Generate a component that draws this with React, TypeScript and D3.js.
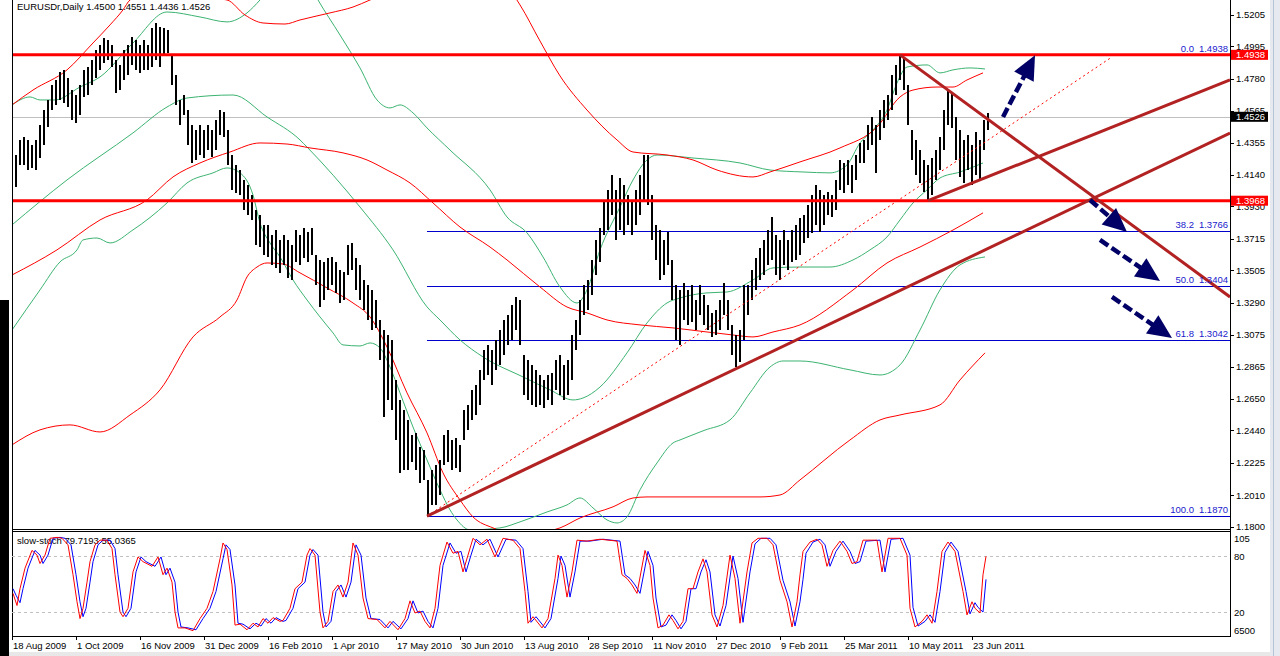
import React from "react";
import * as d3 from "d3";

// ---------- DATA ----------
const title = "EURUSDr,Daily  1.4500 1.4551 1.4436 1.4526";
const stochTitle = "slow-stoch 79.7193 55.0365";

// one bar per two trading days, starting 18 Aug 2009 (day index = 2*i)
const barHigh = [
1.4305,1.4272,1.4372,1.4392,1.4372,1.4339,1.4372,1.4472,1.4571,1.4638,
1.4738,1.4771,1.4824,1.4837,1.4784,1.4704,1.4671,1.4738,1.4837,1.4857,
1.4904,1.4970,1.5004,1.5050,1.5037,1.5004,1.4904,1.4871,1.4970,1.5004,
1.5057,1.5037,1.5004,1.5037,1.5004,1.5117,1.5150,1.5123,1.5117,1.5103,
1.4937,1.4804,1.4638,1.4671,1.4571,1.4472,1.4438,1.4472,1.4438,1.4472,
1.4438,1.4505,1.4571,1.4558,1.4438,1.4272,1.4206,1.4172,1.4106,1.4073,
1.4006,1.3907,1.3873,1.3807,1.3807,1.3740,1.3774,1.3707,1.3740,1.3707,
1.3674,1.3774,1.3740,1.3787,1.3760,1.3787,1.3607,1.3574,1.3561,1.3587,
1.3594,1.3561,1.3508,1.3494,1.3674,1.3687,1.3587,1.3541,1.3441,1.3408,
1.3375,1.3308,1.3175,1.3109,1.3075,1.3042,1.2776,1.2643,1.2577,1.2510,
1.2410,1.2424,1.2330,1.2311,1.2111,1.2178,1.2211,1.2244,1.2410,1.2444,
1.2377,1.2390,1.2344,1.2577,1.2610,1.2710,1.2743,1.2843,1.2976,1.3009,
1.2976,1.3042,1.3109,1.3175,1.3208,1.3275,1.3328,1.3308,1.2942,1.2909,
1.2876,1.2843,1.2809,1.2776,1.2809,1.2823,1.2909,1.2942,1.2876,1.2909,
1.3075,1.3175,1.3308,1.3408,1.3441,1.3574,1.3707,1.3787,1.3973,1.4040,
1.4139,1.4040,1.4119,1.4073,1.4006,1.3973,1.4040,1.4139,1.4272,1.4272,
1.4006,1.3807,1.3774,1.3707,1.3760,1.3574,1.3408,1.3375,1.3421,1.3375,
1.3408,1.3308,1.3408,1.3341,1.3275,1.3221,1.3242,1.3308,1.3421,1.3308,
1.3142,1.3075,1.3109,1.3408,1.3408,1.3508,1.3587,1.3654,1.3707,1.3774,
1.3860,1.3740,1.3707,1.3774,1.3707,1.3774,1.3807,1.3853,1.3873,1.3940,
1.4006,1.4073,1.4040,1.4006,1.4026,1.4006,1.4106,1.4239,1.4219,1.4239,
1.4206,1.4272,1.4352,1.4372,1.4472,1.4525,1.4472,1.4571,1.4638,1.4671,
1.4804,1.4871,1.4938,1.4924,1.4738,1.4438,1.4372,1.4305,1.4239,1.4206,
1.4252,1.4305,1.4392,1.4571,1.4704,1.4684,1.4525,1.4438,1.4372,1.4405,
1.4339,1.4425,1.4372,1.4505,1.4551];
const barLow = [
1.4073,1.4060,1.4206,1.4206,1.4172,1.4186,1.4172,1.4252,1.4339,1.4458,
1.4571,1.4605,1.4638,1.4618,1.4591,1.4505,1.4485,1.4538,1.4658,1.4671,
1.4738,1.4784,1.4837,1.4884,1.4904,1.4857,1.4685,1.4704,1.4771,1.4804,
1.4871,1.4837,1.4817,1.4837,1.4837,1.4857,1.4904,1.4857,1.4937,1.4950,
1.4738,1.4605,1.4472,1.4538,1.4339,1.4219,1.4239,1.4272,1.4252,1.4305,
1.4259,1.4305,1.4405,1.4392,1.4206,1.4040,1.4020,1.4006,1.3907,1.3873,
1.3840,1.3674,1.3661,1.3607,1.3594,1.3541,1.3521,1.3488,1.3541,1.3455,
1.3441,1.3561,1.3541,1.3587,1.3561,1.3607,1.3408,1.3262,1.3308,1.3375,
1.3408,1.3355,1.3288,1.3308,1.3474,1.3508,1.3375,1.3308,1.3242,1.3175,
1.3109,1.3122,1.2909,1.2530,1.2643,1.2577,1.2377,1.2158,1.2178,1.2178,
1.2231,1.2178,1.2091,1.2111,1.1870,1.1945,1.1945,1.2011,1.2211,1.2231,
1.2178,1.2191,1.2164,1.2377,1.2444,1.2510,1.2543,1.2610,1.2776,1.2809,
1.2743,1.2843,1.2876,1.2942,1.3009,1.3042,1.3109,1.3009,1.2676,1.2643,
1.2610,1.2597,1.2610,1.2590,1.2643,1.2610,1.2710,1.2676,1.2643,1.2676,
1.2776,1.2976,1.3075,1.3208,1.3242,1.3341,1.3474,1.3561,1.3740,1.3774,
1.3873,1.3707,1.3774,1.3740,1.3807,1.3740,1.3807,1.3873,1.3973,1.3940,
1.3707,1.3574,1.3441,1.3474,1.3541,1.3308,1.3042,1.3009,1.3175,1.3142,
1.3162,1.3109,1.3208,1.3142,1.3109,1.3062,1.3075,1.3109,1.3208,1.3109,
1.2942,1.2862,1.2896,1.3042,1.3208,1.3308,1.3375,1.3441,1.3474,1.3541,
1.3574,1.3474,1.3441,1.3541,1.3508,1.3561,1.3574,1.3607,1.3687,1.3720,
1.3754,1.3807,1.3760,1.3807,1.3873,1.3860,1.3907,1.4040,1.4020,1.4073,
1.4020,1.4106,1.4219,1.4219,1.4305,1.4339,1.4153,1.4372,1.4452,1.4505,
1.4571,1.4671,1.4771,1.4704,1.4472,1.4239,1.4139,1.4086,1.4026,1.3968,
1.4006,1.4106,1.4172,1.4305,1.4472,1.4452,1.4239,1.4126,1.4086,1.4172,
1.4073,1.4139,1.4106,1.4305,1.4436];

const priceTicks = [1.5205,1.4995,1.4780,1.4565,1.4355,1.4140,1.3930,1.3715,1.3505,1.3290,1.3075,1.2865,1.2650,1.2440,1.2225,1.2010,1.1800];
const dateLabels = ["18 Aug 2009","1 Oct 2009","16 Nov 2009","31 Dec 2009","16 Feb 2010","1 Apr 2010","17 May 2010","30 Jun 2010","13 Aug 2010","28 Sep 2010","11 Nov 2010","27 Dec 2010","9 Feb 2011","25 Mar 2011","10 May 2011","23 Jun 2011"];

const redLevels = [1.4938, 1.3968];
const currentPrice = 1.4526;
const fibNames = ["0.0","38.2","50.0","61.8","100.0"];
const fibPrices = [1.4938,1.3766,1.3404,1.3042,1.1870];
const fibStartDay = 207.5;

// trend lines: [day1, price1, day2, price2]
const trendLines = [
  [207.5,1.1870,609,1.4418],
  [458,1.3968,609,1.4771],
  [444,1.4938,609,1.3328],
];
const dottedLine = [207.5,1.1870,550,1.4924];
// arrows: [startDay, startPrice, tipDay, tipPrice]
const arrows = [
  [495.5,1.4525,511.5,1.4935],
  [539,1.3973,557.5,1.3760],
  [544,1.3707,574,1.3434],
  [550,1.3328,580,1.3055],
];

// Bollinger bands [day, price]
const greenUpper = [[0,1.4605],[9,1.4658],[14,1.4638],[21.5,1.4638],[34,1.4724],[44,1.4791],[60.5,1.5017],[77.5,1.5223],[94,1.5190],[107.5,1.5157],[117.5,1.5217],[124,1.5303],[134,1.5469],[144,1.5522],[153,1.5303],[164,1.5070],[174,1.4851],[182.5,1.4638],[189,1.4585],[194,1.4605],[200.5,1.4552],[207.5,1.4452],[219,1.4305],[239,1.4040],[247.5,1.3860],[257.5,1.3754],[265.5,1.3594],[274,1.3394],[282.5,1.3288],[287.5,1.3375],[294,1.3641],[304,1.3926],[310.5,1.4106],[317.5,1.4239],[322.5,1.4272],[340.5,1.4252],[364,1.4219],[379,1.4172],[395.5,1.4159],[409,1.4153],[417.5,1.4206],[424,1.4352],[430.5,1.4438],[437.5,1.4571],[442.5,1.4751],[447.5,1.4857],[457.5,1.4871],[464,1.4818],[470.5,1.4838],[479,1.4851],[486.5,1.4844]];
const greenMid = [[0,1.3807],[27.5,1.4106],[60.5,1.4419],[77.5,1.4591],[87.5,1.4651],[110.5,1.4671],[127.5,1.4525],[144,1.4372],[147.5,1.4325],[174,1.3926],[190.5,1.3641],[207.5,1.3262],[214,1.3175],[224,1.3042],[235.5,1.2929],[255.5,1.2796],[269,1.2710],[280.5,1.2643],[285.5,1.2656],[294,1.2729],[307.5,1.2956],[317.5,1.3155],[327.5,1.3288],[334,1.3321],[347.5,1.3355],[357.5,1.3361],[370.5,1.3441],[380.5,1.3521],[394,1.3527],[409,1.3527],[420.5,1.3574],[429,1.3641],[437.5,1.3727],[444,1.3840],[450.5,1.3953],[457.5,1.4040],[464,1.4119],[474,1.4159],[485.5,1.4219]];
const greenLower = [[0,1.3108],[14,1.3375],[24,1.3561],[32.5,1.3641],[35.5,1.3707],[42.5,1.3720],[49,1.3687],[60.5,1.3774],[77.5,1.3953],[87.5,1.4086],[100.5,1.4153],[107.5,1.4186],[114,1.4153],[120.5,1.4006],[124,1.3820],[129,1.3687],[134,1.3594],[140.5,1.3441],[147.5,1.3308],[154,1.3195],[160.5,1.3089],[165.5,1.3009],[174,1.3002],[179,1.3022],[184,1.2989],[189,1.2862],[194,1.2690],[200.5,1.2463],[207.5,1.2244],[214,1.2045],[219,1.1912],[222.5,1.1845],[229,1.1779],[244,1.1792],[254,1.1832],[267.5,1.1898],[277.5,1.1945],[284,1.1991],[290.5,1.1925],[297.5,1.1845],[302.5,1.1825],[307.5,1.1865],[314,1.2045],[322.5,1.2224],[330.5,1.2357],[334,1.2377],[346,1.2440],[359,1.2510],[369,1.2690],[379,1.2862],[385.5,1.2902],[394,1.2902],[419,1.2843],[434,1.2809],[444,1.2876],[454,1.3108],[464,1.3375],[474,1.3541],[486.5,1.3594]];
const redUpper = [[0,1.4605],[10.5,1.4704],[27.5,1.4838],[40.5,1.5017],[49,1.5137],[55.5,1.5237],[59,1.5303],[69,1.5356],[89,1.5330],[107.5,1.5303],[116.5,1.5203],[125.5,1.5150],[136.5,1.5143],[144,1.5170],[159,1.5217],[170.5,1.5256],[179,1.5303],[187.5,1.5350],[210.5,1.5582],[239,1.5516],[254,1.5270],[264,1.5030],[274,1.4798],[287.5,1.4571],[302.5,1.4372],[310.5,1.4292],[327.5,1.4272],[340.5,1.4239],[352.5,1.4172],[370.5,1.4126],[379,1.4159],[394,1.4226],[414,1.4319],[432.5,1.4458],[444,1.4658],[450.5,1.4704],[462.5,1.4724],[470.5,1.4724],[477.5,1.4771],[485.5,1.4818]];
const redMid = [[0,1.3474],[22.5,1.3641],[44,1.3840],[67.5,1.3973],[80.5,1.4126],[94,1.4219],[109,1.4292],[124,1.4352],[137.5,1.4345],[149,1.4319],[165.5,1.4286],[177.5,1.4239],[187.5,1.4172],[199,1.4086],[210.5,1.3953],[224,1.3793],[239,1.3660],[247.5,1.3574],[264,1.3394],[277.5,1.3261],[287.5,1.3222],[297.5,1.3175],[314,1.3142],[330.5,1.3122],[347.5,1.3095],[360.5,1.3075],[370.5,1.3062],[380.5,1.3095],[394,1.3142],[420.5,1.3374],[437.5,1.3554],[454,1.3660],[470.5,1.3773],[485.5,1.3887]];
const redLower = [[0,1.2344],[14,1.2444],[29,1.2477],[44,1.2430],[59,1.2543],[74,1.2710],[90.5,1.3062],[104,1.3195],[112.5,1.3308],[117.5,1.3461],[122.5,1.3527],[127.5,1.3554],[135.5,1.3547],[144,1.3488],[157.5,1.3388],[170.5,1.3288],[179,1.3195],[187.5,1.2995],[197.5,1.2690],[207.5,1.2424],[215.5,1.2158],[224,1.1978],[230.5,1.1865],[240.5,1.1792],[254,1.1745],[266.5,1.1765],[274,1.1792],[284,1.1858],[300.5,1.1932],[310.5,1.1991],[317.5,1.1998],[334,1.1998],[354,1.1998],[374,1.1998],[384,1.2011],[394,1.2111],[419,1.2377],[434,1.2510],[444,1.2543],[464,1.2610],[474,1.2776],[486.5,1.2956]];

// slow stochastic [day, value]
const stochK = [[0.5,40],[2.5,27],[4,45],[6.5,67],[10,86],[12.5,81],[14,72],[16.5,81],[19,99],[22.5,100],[25,99],[28,92],[30.5,60],[32.5,31],[34,13],[35.5,24],[37.5,52],[39,74],[41.5,92],[44,97],[47.5,97],[50,88],[51.5,60],[54,20],[55.5,15],[58,24],[60.5,63],[63,79],[65.5,74],[70,69],[73,79],[75.5,60],[77.5,67],[80,52],[81.5,20],[83,3],[86.5,3],[90.5,0],[94,13],[97.5,24],[100.5,42],[104,77],[105.5,94],[107.5,87],[110,49],[111.5,6],[114,7],[117.5,1],[120.5,8],[123,4],[125.5,13],[128,8],[130.5,14],[134,10],[135.5,11],[139,24],[141.5,45],[145,52],[147.5,81],[149,88],[151.5,81],[154,20],[155.5,3],[158,10],[160.5,42],[163,49],[165.5,36],[168,52],[170.5,94],[173,81],[175.5,35],[178,13],[182.5,12],[186.5,3],[189,10],[193,1],[196.5,13],[199,32],[201.5,19],[204,21],[206.5,10],[209,3],[211.5,24],[214,70],[217.5,95],[220.5,83],[223,85],[225.5,63],[228,81],[230.5,99],[234,92],[237.5,98],[241.5,79],[245.5,99],[250.5,97],[254,88],[256.5,42],[258,8],[260.5,15],[265,3],[268,13],[271.5,56],[273,81],[275,70],[277.5,36],[280,63],[282.5,97],[287.5,96],[294,98],[302.5,96],[305,60],[307.5,56],[310,49],[312.5,40],[316.5,86],[319,70],[320.5,35],[323,3],[325.5,6],[328.5,17],[330.5,11],[333,2],[335.5,10],[338,45],[340.5,45],[343,63],[345.5,77],[347.5,63],[350,17],[352.5,4],[355.5,27],[359,81],[361.5,56],[364,8],[367.5,63],[370,94],[373,99],[377.5,99],[380.5,92],[384,54],[387.5,31],[390,4],[392.5,31],[394,60],[395.5,85],[399,95],[402.5,98],[405,92],[407.5,69],[410.5,86],[414,96],[417.5,85],[420,72],[422.5,74],[425.5,97],[432.5,97],[435,63],[438,99],[444,99],[447.5,81],[449,24],[451.5,4],[455,10],[457.5,17],[460,8],[462.5,42],[465,85],[468,95],[471.5,85],[475.5,42],[477.5,17],[480,31],[481.5,24],[484,19],[485.5,60],[487,79.7]];
const stochD = [[0.5,45],[2,38],[4,30],[5.5,45],[8,67],[11.5,86],[14,81],[15.5,72],[18,81],[20.5,99],[24,100],[26.5,99],[29.5,92],[32,60],[34,31],[35.5,15],[37,24],[39,52],[40.5,74],[43,92],[45.5,97],[49,97],[51.5,88],[53,60],[55.5,20],[57,15],[59.5,24],[62,63],[64.5,79],[67,74],[71.5,69],[74.5,79],[77,60],[79,67],[81.5,52],[83,20],[84.5,4],[88,3],[92,1],[95.5,13],[99,24],[102,42],[105.5,77],[107,92],[109,87],[111.5,49],[113,8],[115.5,7],[119,2],[122,8],[124.5,5],[127,13],[129.5,8],[132,14],[135.5,10],[137,11],[140.5,24],[143,45],[146.5,52],[149,81],[150.5,87],[153,81],[155.5,20],[157,4],[159.5,10],[162,42],[164.5,49],[167,36],[169.5,52],[172,92],[174.5,81],[177,35],[179.5,13],[184,12],[188,3],[190.5,10],[194.5,2],[198,13],[200.5,32],[203,19],[205.5,21],[208,10],[210.5,3],[213,24],[215.5,70],[219,94],[222,83],[224.5,85],[227,63],[229.5,81],[232,98],[235.5,92],[239,98],[243,79],[247,98],[252,97],[255.5,88],[258,42],[259.5,9],[262,15],[266.5,3],[269.5,13],[273,56],[274.5,80],[276.5,70],[279,36],[281.5,63],[284,96],[289,96],[295.5,98],[304,96],[306.5,60],[309,56],[311.5,49],[314,40],[318,85],[320.5,70],[322,35],[324.5,4],[327,6],[330,17],[332,11],[334.5,2],[337,10],[339.5,45],[342,45],[344.5,63],[347,76],[349,63],[351.5,17],[354,5],[357,27],[360.5,80],[363,56],[365.5,9],[369,63],[371.5,93],[374.5,99],[379,99],[382,92],[385.5,54],[389,31],[391.5,5],[394,31],[395.5,55],[397,83],[400.5,95],[404,98],[406.5,92],[409,69],[412,85],[415.5,96],[419,85],[421.5,72],[424,74],[427,96],[434,97],[436.5,63],[439.5,98],[445.5,99],[449,81],[450.5,25],[453,5],[456.5,10],[459,17],[461.5,9],[464,42],[466.5,84],[469.5,95],[473,85],[477,42],[479,18],[481.5,30],[483,25],[485.5,20],[487,55]];
const stochLevels = [80, 20];
const stochLabels = ["105", "80", "20", "6500"];
const stochLabelValues = [105, 80, 20, 0];

// ---------- CHART ----------
const FONT = "'Liberation Sans', Arial, sans-serif";

export default function App() {
  const left = 12, right = 1230, mainBottom = 529, stTop = 532, stBottom = 636;
  const x = d3.scaleLinear().domain([0, 609]).range([left, right]);
  const y = d3.scaleLinear().domain([1.18, 1.5205]).range([526.7, 14.7]);
  const ys = d3.scaleLinear().domain([0, 105]).range([630.7, 532.7]);

  const band = d3.line<number[]>().x(d => x(d[0])).y(d => y(d[1])).curve(d3.curveMonotoneX);
  const stoch = d3.line<number[]>().x(d => x(d[0])).y(d => ys(d[1])).curve(d3.curveLinear);

  const bands = [
    { d: greenUpper, c: "#3cb371" }, { d: greenMid, c: "#3cb371" }, { d: greenLower, c: "#3cb371" },
    { d: redUpper, c: "#ff0000" }, { d: redMid, c: "#ff0000" }, { d: redLower, c: "#ff0000" },
  ];

  const arrowShapes = arrows.map((a) => {
    const x1 = x(a[0]), y1 = y(a[1]), x2 = x(a[2]), y2 = y(a[3]);
    const len = Math.hypot(x2 - x1, y2 - y1);
    const ux = (x2 - x1) / len, uy = (y2 - y1) / len;
    const hl = 24, hw = 11;
    const bx = x2 - ux * hl, by = y2 - uy * hl;
    const pts = [[x2, y2], [bx - uy * hw, by + ux * hw], [bx + uy * hw, by - ux * hw]];
    return { x1, y1, sx: x2 - ux * (hl - 3), sy: y2 - uy * (hl - 3), pts };
  });

  const priceBoxes = [
    { p: redLevels[0], bg: "#ff0000" },
    { p: redLevels[1], bg: "#ff0000" },
    { p: currentPrice, bg: "#000000" },
  ];

  return (
    <svg width={1280} height={656} style={{ position: "fixed", left: 0, top: 0, background: "#fff" }} fontFamily={FONT}>
      <defs>
        <clipPath id="mainClip"><rect x={left} y={0} width={right - left} height={mainBottom} /></clipPath>
        <clipPath id="stClip"><rect x={left} y={stTop} width={right - left} height={stBottom - stTop} /></clipPath>
      </defs>
      <rect x={0} y={0} width={1280} height={656} fill="#ffffff" />

      <g clipPath="url(#mainClip)">
        <line x1={left} x2={right} y1={Math.round(y(currentPrice)) + 0.5} y2={Math.round(y(currentPrice)) + 0.5} stroke="#c0c0c0" strokeWidth={1} />
        {fibPrices.map((p, i) => (
          <line key={"f" + i} x1={x(fibStartDay)} x2={right} y1={Math.round(y(p)) + 0.5} y2={Math.round(y(p)) + 0.5} stroke="#0000cc" strokeWidth={1} />
        ))}
        {bands.map((b, i) => (
          <path key={"b" + i} d={band(b.d) || ""} fill="none" stroke={b.c} strokeWidth={1} />
        ))}
        {barHigh.map((h, i) => (
          <line key={"bar" + i} x1={x(2 * i)} x2={x(2 * i)} y1={y(h)} y2={y(barLow[i])} stroke="#000" strokeWidth={2} shapeRendering="crispEdges" />
        ))}
        {redLevels.map((p, i) => (
          <line key={"r" + i} x1={left} x2={right} y1={y(p)} y2={y(p)} stroke="#ff0000" strokeWidth={3} />
        ))}
        <line x1={x(dottedLine[0])} y1={y(dottedLine[1])} x2={x(dottedLine[2])} y2={y(dottedLine[3])} stroke="#ff0000" strokeWidth={1} strokeDasharray="2 3" />
        {trendLines.map((t, i) => (
          <line key={"t" + i} x1={x(t[0])} y1={y(t[1])} x2={x(t[2])} y2={y(t[3])} stroke="#b22222" strokeWidth={3} />
        ))}
        {arrowShapes.map((a, i) => (
          <g key={"a" + i}>
            <line x1={a.x1} y1={a.y1} x2={a.sx} y2={a.sy} stroke="#000066" strokeWidth={4.5} strokeDasharray="10 4" />
            <polygon points={a.pts.map(p => p.join(",")).join(" ")} fill="#000066" />
          </g>
        ))}
      </g>

      {fibPrices.map((p, i) => (
        <g key={"fl" + i} fill="#1a1acc" fontSize={9.5}>
          <text x={1194} y={y(p) - 3} textAnchor="end">{fibNames[i]}</text>
          <text x={1228} y={y(p) - 3} textAnchor="end">{p.toFixed(4)}</text>
        </g>
      ))}

      <text x={17} y={10} fontSize={9.5} fill="#000">{title}</text>

      <line x1={left + 0.5} x2={left + 0.5} y1={0} y2={stBottom} stroke="#000" />
      <line x1={right + 0.5} x2={right + 0.5} y1={0} y2={stBottom + 0.5} stroke="#000" />
      <line x1={left} x2={right + 1} y1={mainBottom + 0.5} y2={mainBottom + 0.5} stroke="#000" />
      <line x1={left} x2={right + 1} y1={stTop - 0.5} y2={stTop - 0.5} stroke="#000" />
      <line x1={left} x2={right + 1} y1={stBottom + 0.5} y2={stBottom + 0.5} stroke="#000" />

      {priceTicks.map((p, i) => (
        <g key={"pt" + i}>
          <line x1={right + 1} x2={right + 4} y1={Math.round(y(p)) + 0.5} y2={Math.round(y(p)) + 0.5} stroke="#000" />
          <text x={1236} y={y(p) + 3.5} fontSize={9.5} fill="#000">{p.toFixed(4)}</text>
        </g>
      ))}
      {priceBoxes.map((b, i) => (
        <g key={"pb" + i}>
          <rect x={1231} y={y(b.p) - 5} width={37} height={10} fill={b.bg} />
          <text x={1236} y={y(b.p) + 3.5} fontSize={9.5} fill="#fff">{b.p.toFixed(4)}</text>
        </g>
      ))}

      <text x={17} y={544} fontSize={9.5} fill="#000">{stochTitle}</text>
      {stochLevels.map((v, i) => (
        <line key={"sl" + i} x1={left} x2={right} y1={Math.round(ys(v)) + 0.5} y2={Math.round(ys(v)) + 0.5} stroke="#c0c0c0" strokeDasharray="3 3" />
      ))}
      <g clipPath="url(#stClip)">
        <path d={stoch(stochD) || ""} fill="none" stroke="#0000ff" strokeWidth={1} />
        <path d={stoch(stochK) || ""} fill="none" stroke="#ff0000" strokeWidth={1} />
      </g>
      {stochLabels.map((lab, i) => (
        <text key={"sx" + i} x={1234} y={Math.max(ys(stochLabelValues[i]) + 3.5, stTop + 10)} fontSize={9.5} fill="#000">{lab}</text>
      ))}

      {dateLabels.map((lab, i) => (
        <g key={"d" + i}>
          <line x1={x(32 * i) + 0.5} x2={x(32 * i) + 0.5} y1={stBottom} y2={stBottom + 4} stroke="#000" />
          <text x={x(32 * i) + 1} y={649} fontSize={9.5} fill="#000">{lab}</text>
        </g>
      ))}

      <rect x={0} y={300} width={9} height={356} fill="#000" />
      <rect x={1270} y={0} width={10} height={656} fill="#e6eaf0" />
      <line x1={1273.5} x2={1273.5} y1={0} y2={656} stroke="#b4c4d6" />
      <rect x={9} y={652} width={1261} height={4} fill="#e8e8e8" />
    </svg>
  );
}
